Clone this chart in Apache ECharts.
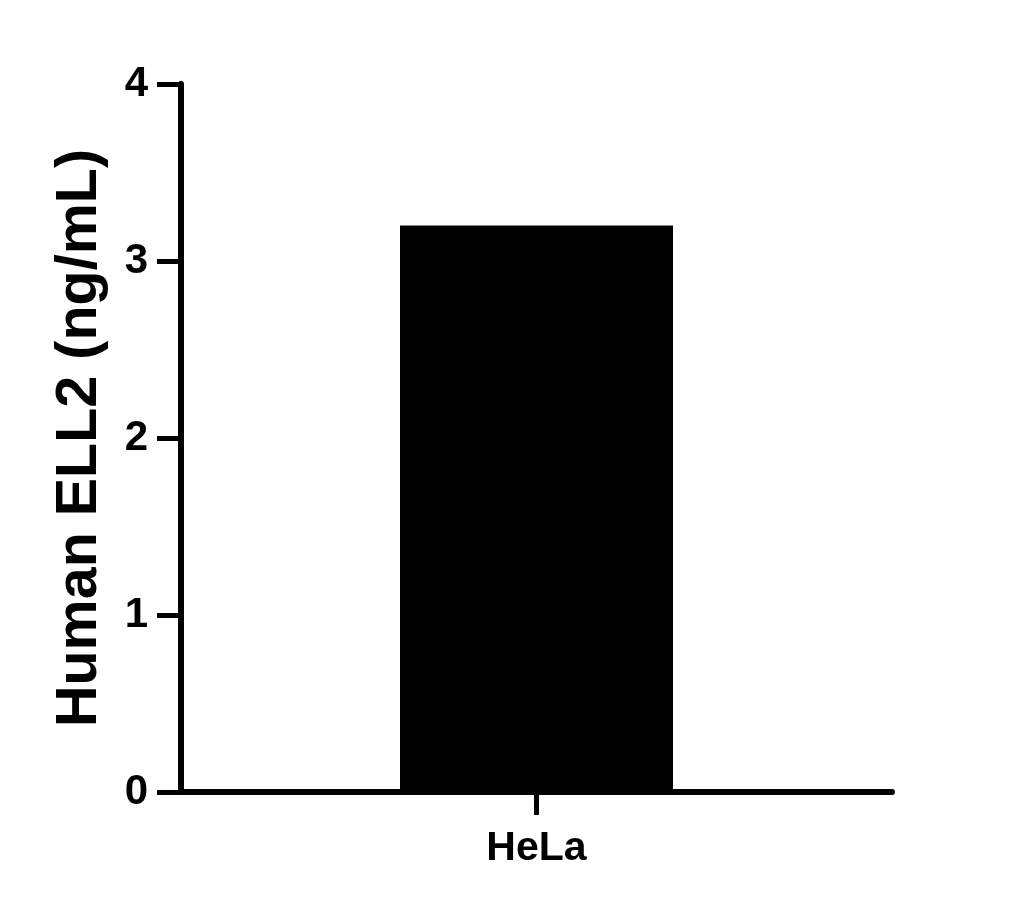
<!DOCTYPE html>
<html>
<head>
<meta charset="utf-8">
<script src="https://cdn.jsdelivr.net/npm/echarts@6/dist/echarts.min.js"></script>
<style>
html,body{margin:0;padding:0;background:#fff;}
#chart{width:1023px;height:909px;}
</style>
</head>
<body>
<div id="chart"></div>
<script>
const categories = ['HeLa'];
const values = [3.2];
const yTicks = [0, 1, 2, 3, 4];
const yTitle = 'Human ELL2 (ng/mL)';

const FONT = '"Liberation Sans", Arial, sans-serif';
const chart = echarts.init(document.getElementById('chart'), null, {renderer: 'canvas'});
chart.setOption({
  animation: false,
  backgroundColor: '#ffffff',
  grid: {left: 181, right: 131, top: 84, bottom: 117, containLabel: false},
  xAxis: {
    type: 'category',
    data: categories,
    axisLine: {show: true, lineStyle: {color: '#000', width: 6}},
    axisTick: {show: true, alignWithLabel: true, length: 23, lineStyle: {color: '#000', width: 5}},
    axisLabel: {color: '#000', fontFamily: FONT, fontWeight: 'bold', fontSize: 41, margin: 36},
    splitLine: {show: false}
  },
  yAxis: {
    type: 'value',
    min: yTicks[0],
    max: yTicks[yTicks.length - 1],
    interval: 1,
    name: yTitle,
    nameLocation: 'middle',
    nameRotate: 90,
    nameGap: 72,
    nameTextStyle: {color: '#000', fontFamily: FONT, fontWeight: 'bold', fontSize: 57.5},
    axisLine: {show: true, lineStyle: {color: '#000', width: 6}},
    axisTick: {show: true, length: 24, lineStyle: {color: '#000', width: 5}},
    axisLabel: {color: '#000', fontFamily: FONT, fontWeight: 'bold', fontSize: 42, margin: 33},
    splitLine: {show: false}
  },
  series: [{
    type: 'bar',
    data: values,
    barWidth: 273,
    itemStyle: {color: '#000'}
  }]
});
</script>
</body>
</html>
